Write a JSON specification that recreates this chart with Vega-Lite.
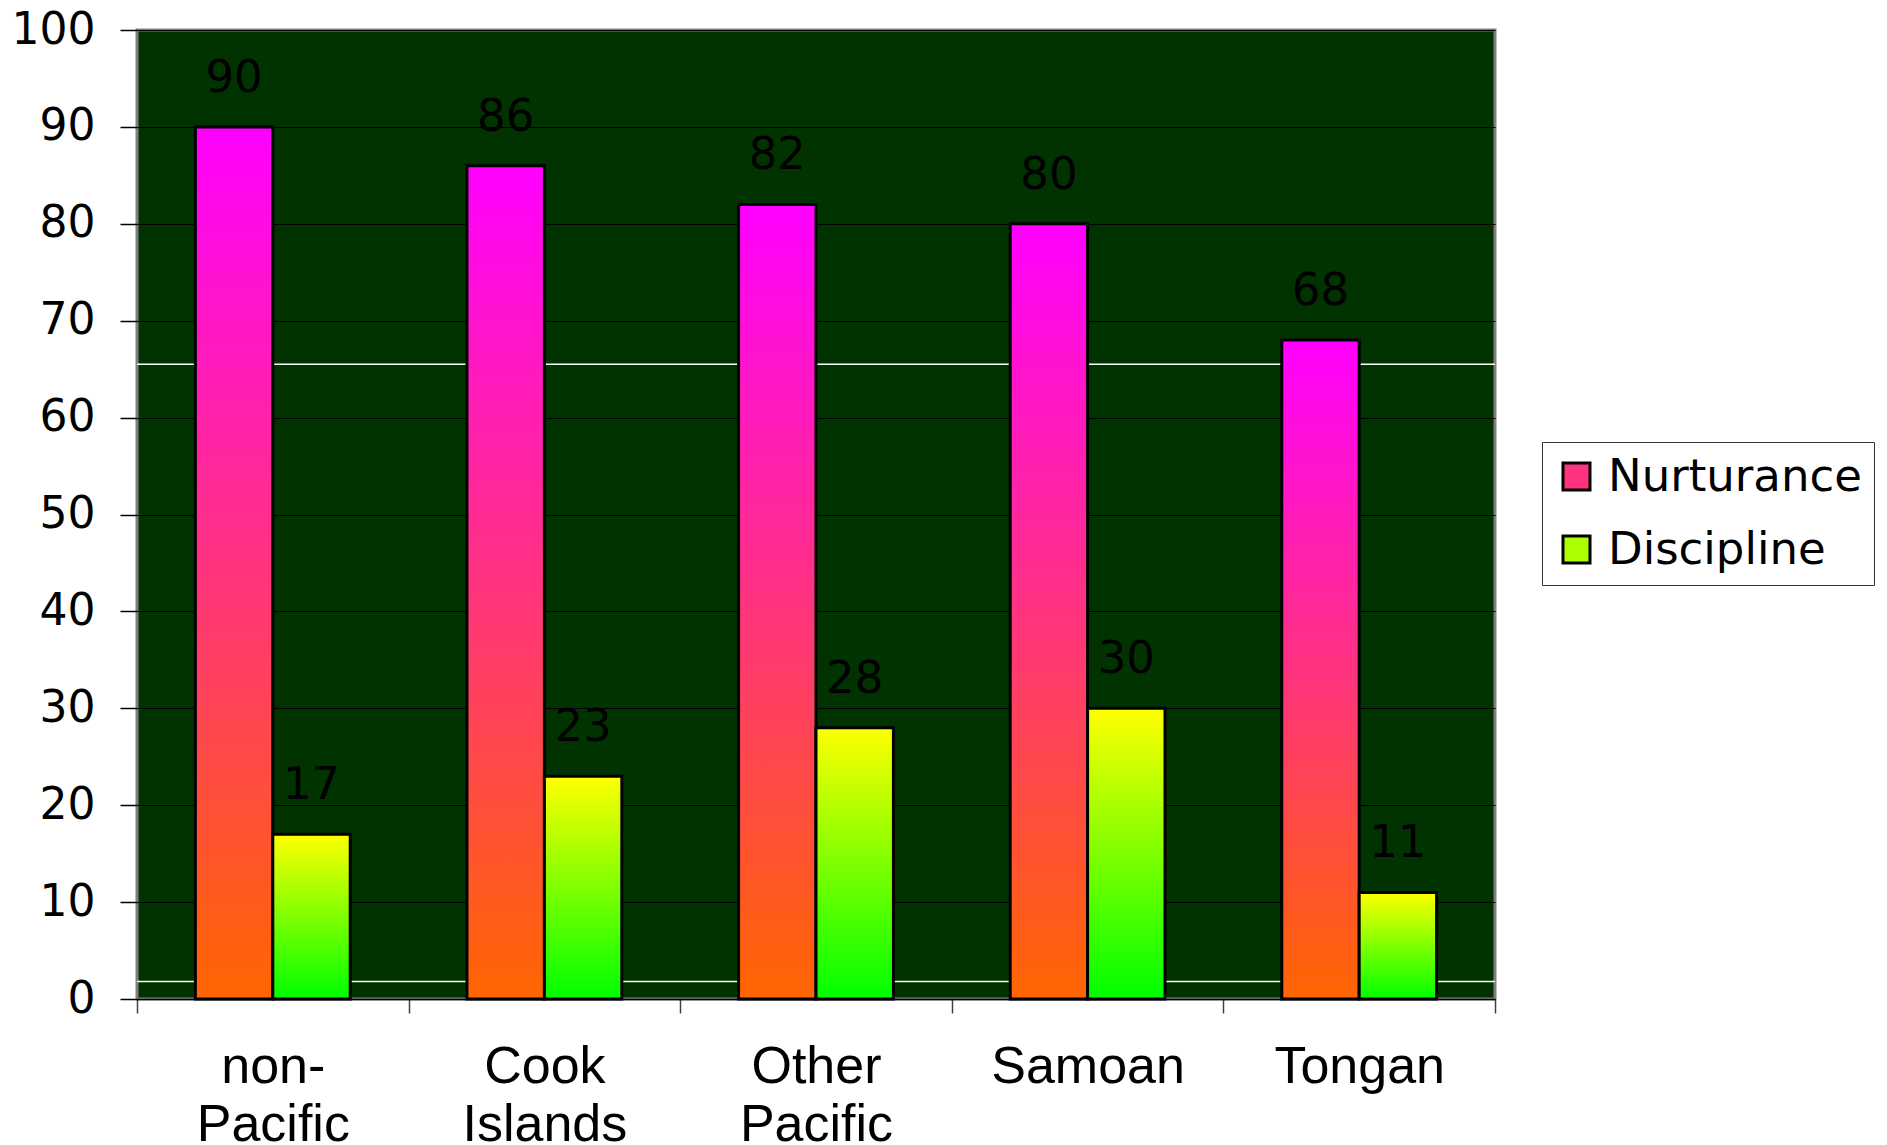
{
  "$schema": "https://vega.github.io/schema/vega-lite/v6.json",
  "width": 1358,
  "height": 969,
  "autosize": {"type": "none"},
  "padding": {"left": 137, "top": 30, "right": 392, "bottom": 146},
  "background": "white",
  "config": {
    "view": {"fill": "#003300", "stroke": "#808080", "strokeWidth": 3},
    "font": "Liberation Sans"
  },
  "datasets": {
    "bars": [
      {"group": "non-Pacific", "series": "Nurturance", "value": 90},
      {"group": "non-Pacific", "series": "Discipline", "value": 17},
      {"group": "Cook Islands", "series": "Nurturance", "value": 86},
      {"group": "Cook Islands", "series": "Discipline", "value": 23},
      {"group": "Other Pacific", "series": "Nurturance", "value": 82},
      {"group": "Other Pacific", "series": "Discipline", "value": 28},
      {"group": "Samoan", "series": "Nurturance", "value": 80},
      {"group": "Samoan", "series": "Discipline", "value": 30},
      {"group": "Tongan", "series": "Nurturance", "value": 68},
      {"group": "Tongan", "series": "Discipline", "value": 11}
    ],
    "lines": [{"v": 1.8}, {"v": 65.5}]
  },
  "layer": [
    {
      "data": {"name": "lines"},
      "mark": {"type": "rule", "color": "white", "strokeWidth": 1.5},
      "encoding": {
        "y": {
          "field": "v", "type": "quantitative",
          "scale": {"domain": [0, 100], "nice": false},
          "axis": {
            "title": null, "values": [0, 10, 20, 30, 40, 50, 60, 70, 80, 90, 100],
            "labelFont": "DejaVu Sans", "labelFontSize": 44, "labelColor": "black",
            "tickColor": "black", "tickSize": 17, "tickWidth": 1.5, "labelPadding": 25,
            "grid": true, "gridColor": "black", "gridWidth": 1, "domain": false
          }
        }
      }
    },
    {
      "data": {"name": "bars"},
      "mark": {"type": "bar"},
      "encoding": {
        "x": {
          "field": "group", "type": "nominal", "sort": null,
          "scale": {"paddingInner": 0, "paddingOuter": 0},
          "axis": {
            "title": null, "labelAngle": 0, "labelFont": "Liberation Sans", "labelFontSize": 52,
            "labelColor": "black", "tickBand": "extent", "tickSize": 14, "tickColor": "#404040",
            "tickWidth": 1.5, "labelPadding": 28, "labelLineHeight": 58, "labelLimit": 500,
            "labelExpr": "isString(datum.value) ? split(replace(datum.value, '-', '- '), ' ') : ''",
            "domainColor": "black", "domainWidth": 1.5
          }
        },
        "xOffset": {"field": "series", "type": "nominal", "sort": ["Nurturance", "Discipline"], "scale": {"paddingInner": 0, "paddingOuter": 0.754}},
        "y": {"field": "value", "type": "quantitative"},
        "fill": {
          "field": "series", "type": "nominal",
          "scale": {"domain": ["Nurturance", "Discipline"], "range": ["#ff3380", "#aaff00"]},
          "legend": {
            "title": null, "orient": "none", "legendX": 1405, "legendY": 412, "direction": "vertical",
            "symbolType": "square", "symbolSize": 729, "symbolStrokeWidth": 3, "symbolStrokeColor": "black",
            "labelFont": "DejaVu Sans", "labelFontSize": 45, "labelColor": "black", "labelOffset": 9,
            "labelLimit": 500, "rowPadding": 27, "padding": 12, "strokeColor": "#333333", "fillColor": "white"
          }
        }
      }
    },
    {
      "data": {"name": "bars"},
      "mark": {"type": "bar", "stroke": "black", "strokeWidth": 3},
      "encoding": {
        "x": {"field": "group", "type": "nominal", "sort": null},
        "xOffset": {"field": "series", "type": "nominal", "sort": ["Nurturance", "Discipline"]},
        "y": {"field": "value", "type": "quantitative"},
        "fill": {
          "condition": {
            "test": "datum.series === 'Nurturance'",
            "value": {"gradient": "linear", "x1": 0, "y1": 0, "x2": 0, "y2": 1, "stops": [{"offset": 0, "color": "#ff00ff"}, {"offset": 1, "color": "#ff6600"}]}
          },
          "value": {"gradient": "linear", "x1": 0, "y1": 0, "x2": 0, "y2": 1, "stops": [{"offset": 0, "color": "#ffff00"}, {"offset": 1, "color": "#00ff00"}]}
        }
      }
    },
    {
      "data": {"name": "bars"},
      "mark": {"type": "text", "font": "DejaVu Sans", "fontSize": 45, "color": "black", "align": "center", "baseline": "alphabetic", "dy": -35},
      "encoding": {
        "x": {"field": "group", "type": "nominal", "sort": null},
        "xOffset": {"field": "series", "type": "nominal", "sort": ["Nurturance", "Discipline"]},
        "y": {"field": "value", "type": "quantitative"},
        "text": {"field": "value", "type": "quantitative"}
      }
    }
  ]
}
